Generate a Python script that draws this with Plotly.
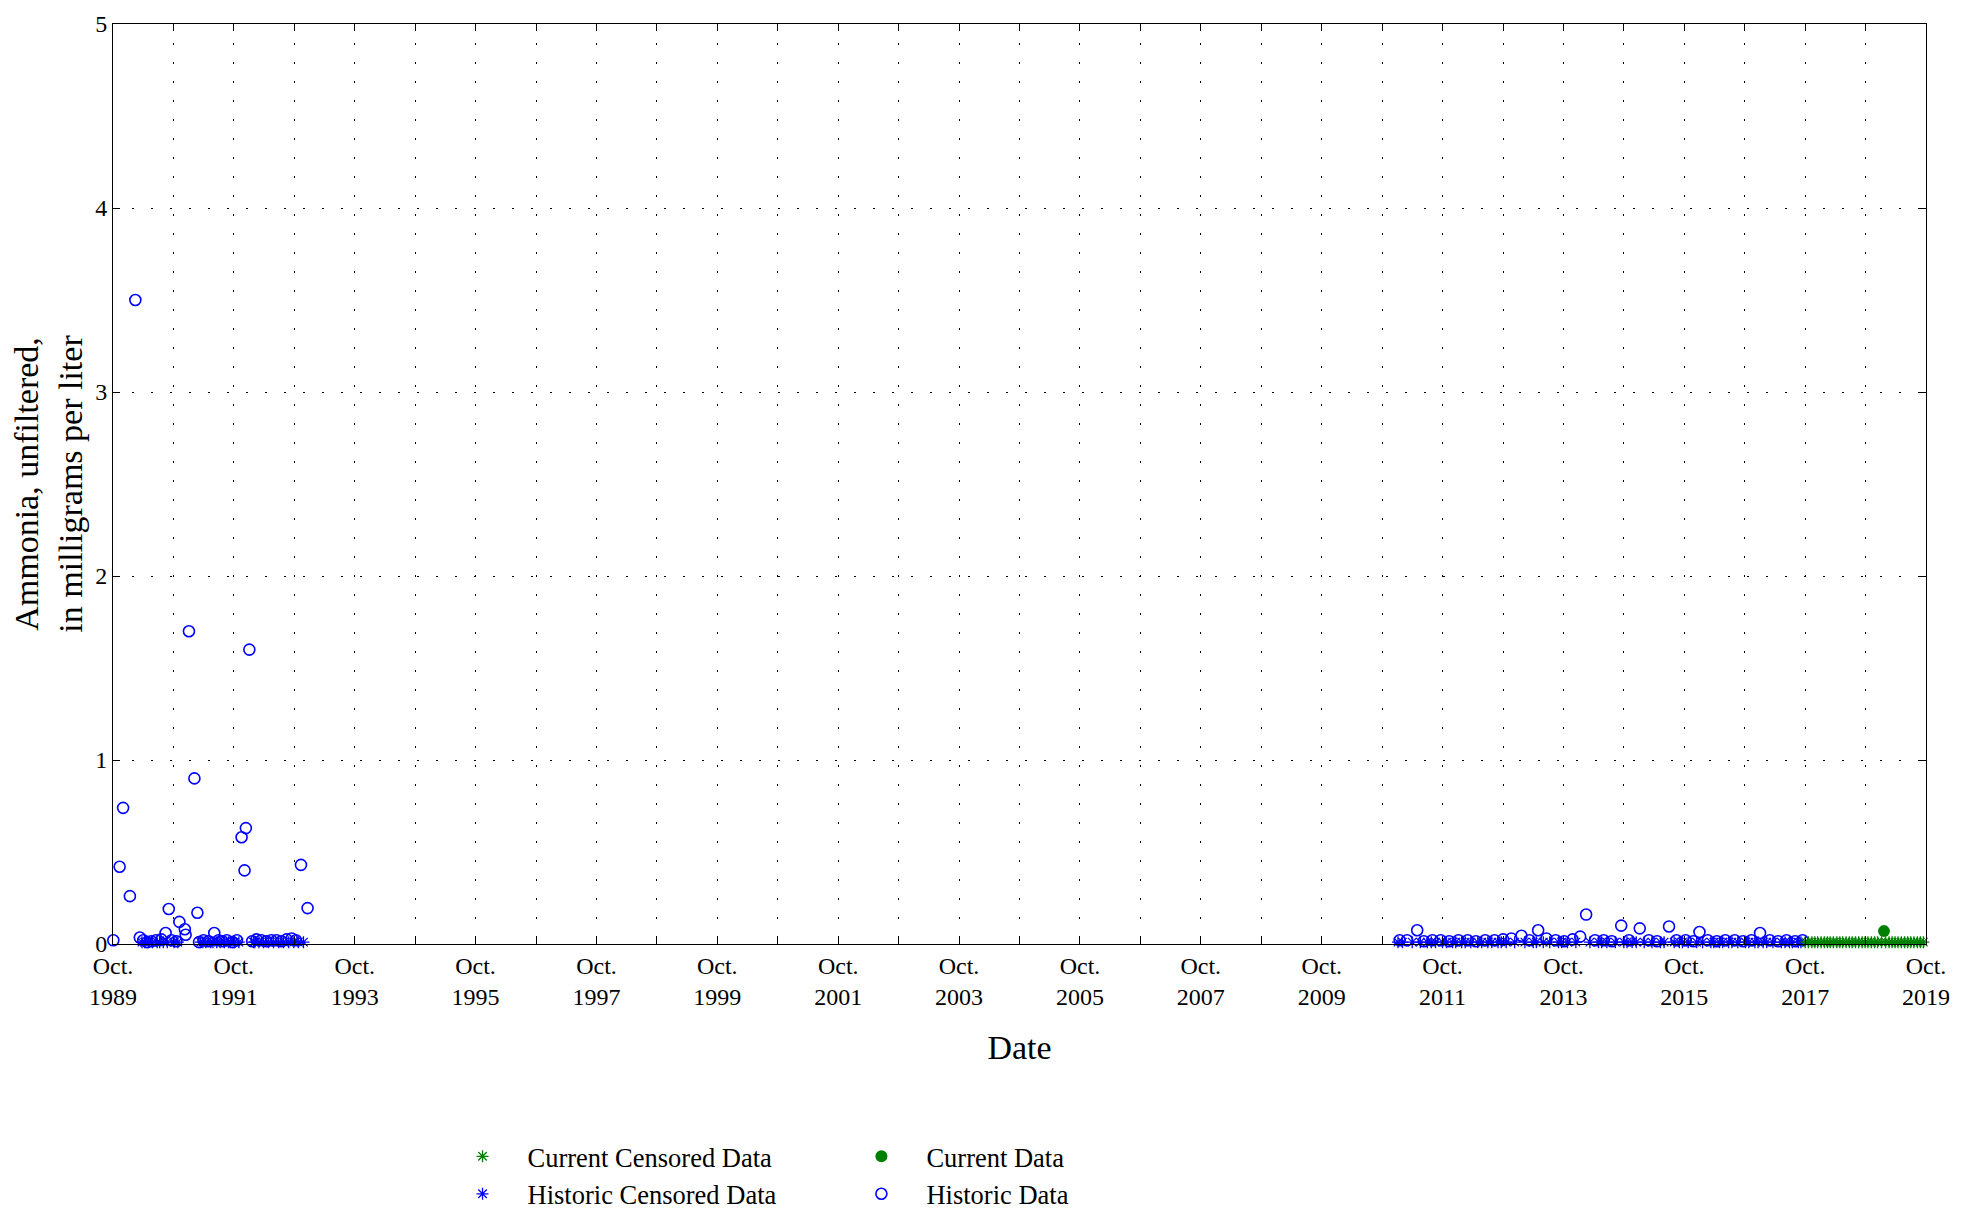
import plotly.graph_objects as go

# ---------------- data ----------------
hist_dates = [
    "1989-10-03", "1989-11-10", "1989-12-01", "1990-01-11", "1990-02-13", "1990-03-12",
    "1990-04-02", "1990-04-25", "1990-05-20", "1990-06-18", "1990-07-20", "1990-08-15",
    "1990-09-03", "1990-09-20", "1990-10-19", "1990-11-06", "1990-12-09", "1990-12-14",
    "1991-01-03", "1991-02-05", "1991-02-23", "1991-03-05", "1991-04-01", "1991-05-01",
    "1991-06-05", "1991-07-01", "1991-07-25", "1991-08-20", "1991-09-25", "1991-10-20",
    "1991-11-17", "1991-12-05", "1991-12-13", "1992-01-03", "1992-01-20", "1992-02-15",
    "1992-03-15", "1992-04-15", "1992-05-15", "1992-06-15", "1992-07-15", "1992-08-15",
    "1992-09-15", "1992-10-10", "1992-11-10", "1992-12-20",
    "2011-01-15", "2011-03-01", "2011-05-01", "2011-06-10", "2011-08-01", "2011-09-20",
    "2011-11-10", "2012-01-05", "2012-03-01", "2012-04-20", "2012-06-15", "2012-08-10",
    "2012-10-01", "2012-11-20", "2013-01-20", "2013-03-10", "2013-05-01", "2013-06-20",
    "2013-08-15", "2013-10-05", "2013-11-25", "2014-01-10", "2014-02-15", "2014-04-10",
    "2014-06-01", "2014-07-20", "2014-09-15", "2014-11-01", "2015-01-05", "2015-03-01",
    "2015-04-20", "2015-07-01", "2015-08-15", "2015-10-10", "2015-11-25", "2016-01-01",
    "2016-02-20", "2016-04-15", "2016-06-05", "2016-08-01", "2016-09-20", "2016-11-10",
    "2017-01-01", "2017-03-01", "2017-04-20", "2017-06-10", "2017-08-01", "2017-09-15",
]
hist_values = [
    0.02, 0.42, 0.74, 0.26, 3.50, 0.035,
    0.02, 0.01, 0.015, 0.02, 0.025, 0.06,
    0.19, 0.02, 0.015, 0.12, 0.08, 0.05,
    1.70, 0.90, 0.17, 0.01, 0.02, 0.015,
    0.06, 0.02, 0.015, 0.02, 0.01, 0.02,
    0.58, 0.40, 0.63, 1.60, 0.015, 0.025,
    0.02, 0.015, 0.02, 0.02, 0.015, 0.025,
    0.03, 0.02, 0.43, 0.195,
    0.02, 0.02, 0.075, 0.015, 0.02, 0.02,
    0.015, 0.02, 0.02, 0.015, 0.02, 0.02,
    0.025, 0.03, 0.045, 0.02, 0.075, 0.03,
    0.02, 0.015, 0.025, 0.04, 0.16, 0.02,
    0.02, 0.015, 0.10, 0.02, 0.085, 0.02,
    0.015, 0.095, 0.02, 0.02, 0.015, 0.065,
    0.02, 0.015, 0.02, 0.02, 0.015, 0.02,
    0.06, 0.02, 0.015, 0.02, 0.015, 0.02,
]

hist_cens_dates = [
    "1990-03-25", "1990-04-10", "1990-05-05", "1990-05-28", "1990-06-25", "1990-07-10",
    "1990-08-01", "1990-08-25", "1990-10-05", "1990-10-28",
    "1991-03-15", "1991-03-28", "1991-04-15", "1991-05-15", "1991-05-28", "1991-06-20",
    "1991-07-10", "1991-08-05", "1991-08-30", "1991-09-10", "1991-10-05", "1991-11-01",
    "1992-01-28", "1992-02-05", "1992-03-01", "1992-03-28", "1992-04-28", "1992-05-28",
    "1992-06-28", "1992-07-28", "1992-08-28", "1992-09-28", "1992-10-25", "1992-11-25",
    "2011-01-05", "2011-02-01", "2011-04-01", "2011-05-20", "2011-07-01", "2011-07-25",
    "2011-08-20", "2011-10-01", "2011-10-25", "2011-12-01", "2011-12-20", "2012-01-25",
    "2012-02-15", "2012-03-20", "2012-05-01", "2012-05-25", "2012-07-01", "2012-07-25",
    "2012-09-01", "2012-09-20", "2012-10-20", "2012-12-10", "2013-02-10", "2013-04-01",
    "2013-04-20", "2013-06-01", "2013-07-10", "2013-09-01", "2013-09-20", "2013-10-25",
    "2013-12-15", "2014-03-10", "2014-05-01", "2014-05-20", "2014-06-20", "2014-08-10",
    "2014-10-01", "2014-10-20", "2014-11-20", "2014-12-15", "2015-02-01", "2015-03-20",
    "2015-05-10", "2015-06-01", "2015-08-01", "2015-09-01", "2015-09-20", "2015-10-25",
    "2015-12-15", "2016-01-20", "2016-03-10", "2016-03-28", "2016-05-01", "2016-05-20",
    "2016-06-25", "2016-07-15", "2016-08-20", "2016-10-05", "2016-10-25", "2016-12-01",
    "2016-12-20", "2017-01-20", "2017-02-10", "2017-03-20", "2017-05-10", "2017-06-01",
    "2017-06-28", "2017-07-15", "2017-08-20", "2017-09-05",
]
hist_cens_values = [0.01] * len(hist_cens_dates)

cur_cens_dates = [
    "2017-10-01", "2017-10-20", "2017-11-10", "2017-11-28", "2017-12-15", "2018-01-05",
    "2018-01-25", "2018-02-12", "2018-03-01", "2018-03-20", "2018-04-10", "2018-04-28",
    "2018-05-15", "2018-06-05", "2018-06-25", "2018-07-12", "2018-08-01", "2018-08-20",
    "2018-09-10", "2018-09-28", "2018-10-15", "2018-11-05", "2018-11-25", "2018-12-12",
    "2019-01-05", "2019-01-30", "2019-02-20", "2019-03-10", "2019-03-28", "2019-04-15",
    "2019-05-05", "2019-05-25", "2019-06-12", "2019-07-01", "2019-07-20", "2019-08-10",
    "2019-08-28", "2019-09-15",
]
cur_cens_values = [0.01] * len(cur_cens_dates)

cur_dates = ["2019-01-20"]
cur_values = [0.07]

tick_dates = ["%d-10-01" % y for y in range(1989, 2020)]
tick_labels = ["Oct.<br>%d" % y if (y - 1989) % 2 == 0 else "" for y in range(1989, 2020)]

BLUE = "#0000ff"
GREEN = "#008000"
FONT = "Liberation Serif"

fig = go.Figure()
fig.add_trace(go.Scatter(
    x=hist_cens_dates, y=hist_cens_values, mode="markers", name="Historic Censored Data",
    marker=dict(symbol="asterisk-open", size=10, color=BLUE, line=dict(color=BLUE, width=1.3)),
    cliponaxis=False, legend="legend", legendrank=2))
fig.add_trace(go.Scatter(
    x=hist_dates, y=hist_values, mode="markers", name="Historic Data",
    marker=dict(symbol="circle-open", size=11, color=BLUE, line=dict(color=BLUE, width=1.6)),
    cliponaxis=False, legend="legend2", legendrank=2))
fig.add_trace(go.Scatter(
    x=cur_cens_dates, y=cur_cens_values, mode="markers", name="Current Censored Data",
    marker=dict(symbol="asterisk-open", size=10, color=GREEN, line=dict(color=GREEN, width=1.3)),
    cliponaxis=False, legend="legend", legendrank=1))
fig.add_trace(go.Scatter(
    x=cur_dates, y=cur_values, mode="markers", name="Current Data",
    marker=dict(symbol="circle", size=12, color=GREEN),
    cliponaxis=False, legend="legend2", legendrank=1))

axis_common = dict(
    showline=True, linecolor="black", linewidth=1, mirror="ticks",
    ticks="inside", ticklen=7, tickcolor="black",
    showgrid=True, gridcolor="black", gridwidth=1, griddash="2px,17px",
    zeroline=False, tickfont=dict(family=FONT, size=24, color="black"),
)

fig.update_xaxes(
    type="date", range=["1989-10-01", "2019-10-01"],
    tickmode="array", tickvals=tick_dates, ticktext=tick_labels,
    title=dict(text="Date", font=dict(family=FONT, size=34, color="black"), standoff=26),
    **axis_common)
fig.update_yaxes(
    range=[0, 5], tickmode="array", tickvals=[0, 1, 2, 3, 4, 5],
    title=dict(text="Ammonia, unfiltered,<br>in milligrams per liter",
               font=dict(family=FONT, size=34, color="black"), standoff=8),
    **axis_common)

legend_common = dict(
    font=dict(family=FONT, size=26.5, color="black"), bgcolor="rgba(0,0,0,0)",
    yanchor="top", xanchor="left", orientation="v", itemwidth=80, tracegroupgap=0,
)
fig.update_layout(
    width=1974, height=1210,
    margin=dict(l=105, r=56, t=16, b=274, autoexpand=False),
    paper_bgcolor="white", plot_bgcolor="white",
    font=dict(family=FONT, color="black"),
    showlegend=True,
    legend=dict(x=0.179, y=-0.205, **legend_common),
    legend2=dict(x=0.399, y=-0.205, **legend_common),
)

fig.write_html("out.html")
